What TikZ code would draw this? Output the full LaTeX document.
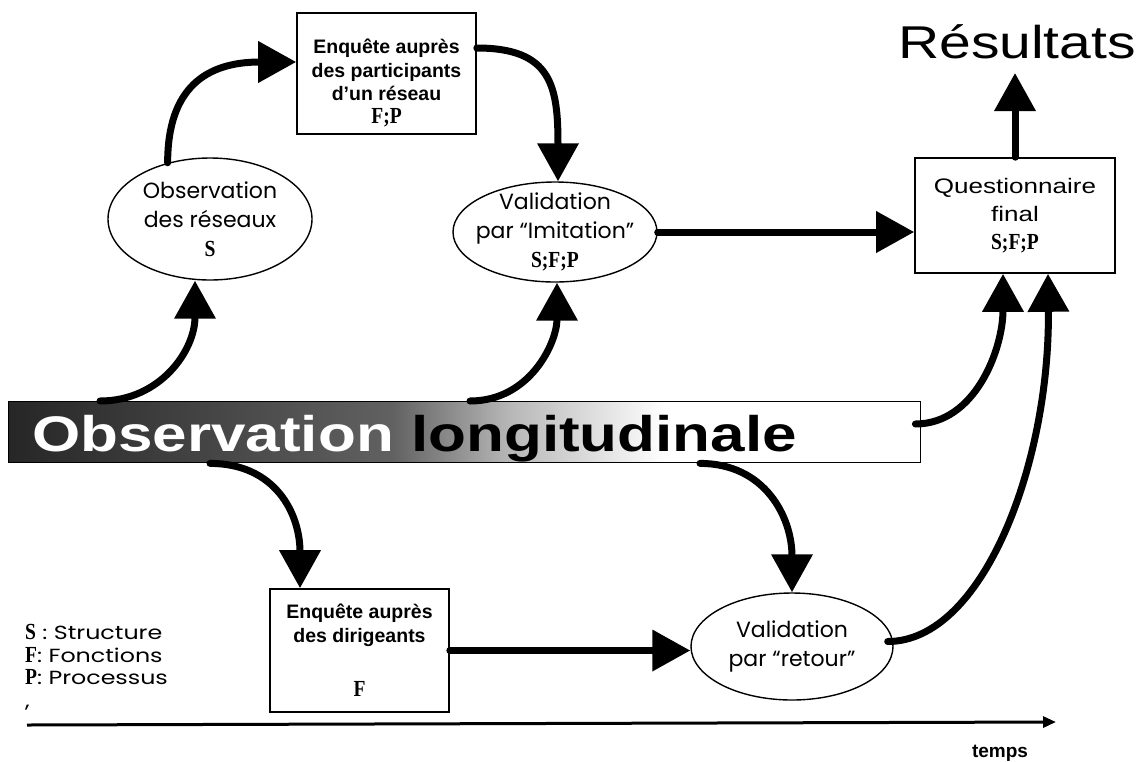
\documentclass[tikz,border=0pt]{standalone}
\usepackage{fontspec}
\setmainfont{Liberation Sans}
\newfontfamily\gothic{Poppins}
\newfontfamily\gothicw[FakeStretch=1.25]{Poppins}
\newfontfamily\widesans[FakeStretch=1.24]{Liberation Sans}
\newfontfamily\sfp[FakeStretch=0.85]{Liberation Serif}
\usetikzlibrary{shapes.geometric,arrows.meta,calc}
\pgfdeclarehorizontalshading{bannershade}{100bp}{color(0bp)=(black!85); color(25bp)=(black!85); color(46bp)=(black!62); color(52.5bp)=(black!28); color(61bp)=(white); color(100bp)=(white)}
\tikzset{
  conn/.style={line width=7pt, line cap=round, -{Triangle[length=38pt,width=40pt]}},
  rbox/.style={draw, line width=1.6pt, rectangle, inner sep=0pt, align=center, font=\bfseries\fontsize{19.5}{23.3}\selectfont},
  ell/.style={draw, ellipse, line width=1.4pt, inner sep=0pt},
  elltext/.style={align=center, inner sep=0pt, font=\gothic\fontsize{22}{29}\selectfont},
  axisline/.style={line width=3pt, -{Triangle[length=13pt,width=11pt]}}
}
\newcommand{\SFP}[1]{{\sfp\bfseries\fontsize{23}{23}\selectfont #1}}
\begin{document}
\begin{tikzpicture}[x=1pt,y=-1pt]
\useasboundingbox (0,0) rectangle (1148,761);
% banner
\node[draw, line width=1.4pt, shading=bannershade, minimum width=912pt, minimum height=61pt, inner sep=0pt, anchor=north west] (ban) at (8,401) {};
\node[anchor=base west, inner sep=0pt, font=\widesans\bfseries\fontsize{50}{60}\selectfont] (bantxt) at (32,451) {\textcolor{white}{Observation} longitudinale};
% boxes
\node[rbox, minimum width=179pt, minimum height=121pt] (enq1) at (386.5,73.5) {\rule{0pt}{34pt}Enquête auprès\\des participants\\d'un réseau\\\SFP{F;P}};
\node[rbox, minimum width=200pt, minimum height=115pt, font=\widesans\fontsize{21}{28}\selectfont] (quest) at (1015,215.5) {Questionnaire\\final\\\SFP{S;F;P}};
\node[rbox, minimum width=179pt, minimum height=123pt] (enqdir) at (359.5,650.5) {Enquête auprès\\des dirigeants\\[31pt]\SFP{F}};
% ellipses
\node[ell, minimum width=204pt, minimum height=122pt] (obs) at (210,219) {};
\node[elltext] (obst) at (obs) {Observation\\des réseaux\\\SFP{S}};
\node[ell, minimum width=204pt, minimum height=100pt] (valim) at (555,232) {};
\node[elltext] (valimt) at (valim) {Validation\\par “Imitation”\\\SFP{S;F;P}};
\node[ell, minimum width=202pt, minimum height=107pt] (valret) at (792,646.5) {};
\node[elltext] (valrett) at (valret) {Validation\\par “retour”};
% texts
\node[anchor=base, inner sep=0pt, font=\widesans\fontsize{46}{55}\selectfont] (res) at (1017,58) {Résultats};
\node[anchor=base, inner sep=0pt, font=\bfseries\fontsize{19}{22}\selectfont] (temps) at (1000,757) {temps};
\node[anchor=west, align=left, inner sep=0pt, font=\gothicw\fontsize{19}{22.5}\selectfont] (leg) at (25,667) {\SFP{S} : Structure\\\SFP{F}: Fonctions\\\SFP{P}: Processus\\,};
% connectors
\draw[conn] ($(ban.north west)+(92,0)$) .. controls +(60,0) and +(0,70) .. (obs.south -| 195,0);
\draw[conn] (obs.127) .. controls +(0,-75) and +(-90,0) .. (enq1.west |- 0,62);
\draw[conn] (enq1.east |- 0,48) .. controls +(75,0) and +(0,-95) .. (valim.north -| 558,0);
\draw[conn] ($(ban.north west)+(462,0)$) .. controls +(60,0) and +(0,60) .. (valim.south -| 557,0);
\draw[conn] (valim.east) -- (valim.east -| quest.west);
\draw[conn] ($(ban.east |- 0,424)+(-6,0)$) .. controls +(60,0) and +(0,75) .. (quest.south -| 1003,0);
\draw[conn] ($(valret.east)+(-6,-5)$) .. controls +(95,0) and +(2,190) .. (quest.south -| 1048,0);
\draw[conn] ($(ban.south west)+(202,0)$) .. controls +(65,0) and +(0,-75) .. (enqdir.north -| 300,0);
\draw[conn] ($(ban.south west)+(692,0)$) .. controls +(65,0) and +(0,-75) .. (valret.north);
\draw[conn] (enqdir.east) -- (enqdir.east -| valret.west);
\draw[conn] (quest.north) -- ($(quest.north |- res.base)+(0,15)$);
% time axis
\coordinate (t0) at (27,725);
\coordinate (t1) at (1056,722);
\draw[axisline] (t0) -- (t1);
\end{tikzpicture}
\end{document}
